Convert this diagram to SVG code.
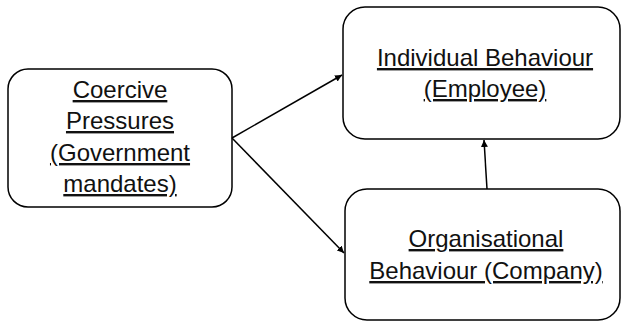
<svg xmlns="http://www.w3.org/2000/svg" width="621" height="322" viewBox="0 0 621 322">
<style>
.box{fill:#fff;stroke:#000;stroke-width:1.5}
.lbl{font-family:"Liberation Sans",Arial,sans-serif;font-size:24px;fill:#111;text-anchor:middle;text-decoration:underline}
.edge{stroke:#000;stroke-width:1.5;fill:none;marker-end:url(#arr)}
</style>
<defs>
<marker id="arr" viewBox="0 0 10 10" refX="10" refY="5" markerWidth="7" markerHeight="7" markerUnits="userSpaceOnUse" orient="auto">
<path d="M0,0 L10,5 L0,10 z" fill="#000"/>
</marker>
</defs>
<rect width="621" height="322" fill="#fff"/>
<g id="coercive">
<rect class="box" x="8" y="69" width="224" height="138" rx="20"/>
<text class="lbl" x="120" y="98">Coercive</text>
<text class="lbl" x="120" y="129">Pressures</text>
<text class="lbl" x="120" y="161">(Government</text>
<text class="lbl" x="120" y="192">mandates)</text>
</g>
<g id="individual">
<rect class="box" x="343" y="7" width="277" height="132" rx="22"/>
<text class="lbl" x="485" y="66">Individual Behaviour</text>
<text class="lbl" x="485" y="97">(Employee)</text>
</g>
<g id="organisational">
<rect class="box" x="345" y="189" width="275" height="131" rx="22"/>
<text class="lbl" x="486" y="247">Organisational</text>
<text class="lbl" x="486" y="279">Behaviour (Company)</text>
</g>
<g id="connectors">
<line class="edge" x1="232" y1="138" x2="342" y2="75"/>
<line class="edge" x1="232" y1="138" x2="344" y2="253"/>
<line class="edge" x1="487" y1="189" x2="484" y2="140"/>
</g>
</svg>
